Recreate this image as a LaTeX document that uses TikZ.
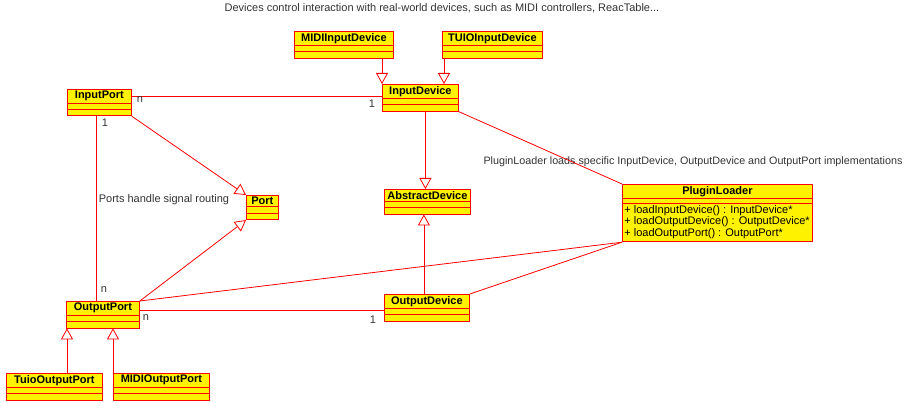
\documentclass[tikz,border=0pt]{standalone}
\usepackage{fontspec}
\setmainfont{Liberation Sans}
\usetikzlibrary{shapes.multipart,arrows.meta}

% empty compartment of a class box
\newcommand{\cpt}{\rule{0pt}{2.6pt}}

\begin{document}
\begin{tikzpicture}[x=1pt,y=-1pt,
    umlclass/.style={rectangle split, rectangle split parts=3, draw=red, fill=yellow,
      line width=0.8pt, anchor=north west, inner xsep=2pt, inner ysep=1.5pt,
      font=\bfseries\fontsize{11}{12}\selectfont},
    link/.style={draw=red, line width=0.8pt},
    gen/.style={link, -{Triangle[open,length=11pt,width=12pt]}},
    mult/.style={font=\fontsize{11}{12}\selectfont, text=black!80, inner sep=0pt},
    note/.style={font=\fontsize{11}{12}\selectfont, text=black!80, inner sep=0pt}
    ]
    \useasboundingbox (0,0) rectangle (907,403);

    \node[note] (title) at (442,8) {Devices control interaction with real-world devices, such as MIDI controllers, ReacTable...};

    \node[umlclass, minimum width=99pt] (midiin) at (294,31) {MIDIInputDevice\nodepart{two}\cpt\nodepart{three}\cpt};
    \node[umlclass, minimum width=100pt] (tuioin) at (442,31) {TUIOInputDevice\nodepart{two}\cpt\nodepart{three}\cpt};
    \node[umlclass, minimum width=76pt] (indev) at (382,84) {InputDevice\nodepart{two}\cpt\nodepart{three}\cpt};
    \node[umlclass, minimum width=64pt] (inport) at (67,89) {InputPort\nodepart{two}\cpt\nodepart{three}\cpt};
    \node[umlclass, minimum width=32pt] (port) at (246,195) {Port\nodepart{two}\cpt\nodepart{three}\cpt};
    \node[umlclass, minimum width=86pt] (absdev) at (384,189) {AbstractDevice\nodepart{two}\cpt\nodepart{three}\cpt};
    \node[umlclass, minimum width=73pt] (outport) at (66,301) {OutputPort\nodepart{two}\cpt\nodepart{three}\cpt};
    \node[umlclass, minimum width=85pt] (outdev) at (384,294) {OutputDevice\nodepart{two}\cpt\nodepart{three}\cpt};
    \node[umlclass, minimum width=96pt] (tuioout) at (6,373) {TuioOutputPort\nodepart{two}\cpt\nodepart{three}\cpt};
    \node[umlclass, minimum width=96pt] (midiout) at (113,373) {MIDIOutputPort\nodepart{two}\cpt\nodepart{three}\cpt};

    \node[umlclass, rectangle split part align={center,left,left}, minimum width=190pt] (loader) at (622,184)
      {PluginLoader
       \nodepart{two}\rule{0pt}{1.2pt}
       \nodepart{three}\normalfont\fontsize{11}{11.5}\selectfont
       \begin{tabular}{@{}l@{}}
       + loadInputDevice() : InputDevice*\\
       + loadOutputDevice() : OutputDevice*\\
       + loadOutputPort() : OutputPort*
       \end{tabular}};

    \node[note, font=\fontsize{10.75}{12}\selectfont] (loadnote) at (693,162) {PluginLoader loads specific InputDevice, OutputDevice and OutputPort implementations};
    \node[note] (portnote) at (164,200) {Ports handle signal routing};

    % generalisations
    \draw[gen] (midiin.south -| indev.north west) -- (indev.north west);
    \draw[gen] ([xshift=2pt]tuioin.south west) -- ([xshift=2pt]tuioin.south west |- indev.north);
    \draw[gen] ([xshift=5pt]indev.south) -- ([xshift=5pt]indev.south |- absdev.north);
    \draw[gen] ([xshift=-3pt]outdev.north) -- ([xshift=-3pt]outdev.north |- absdev.south);
    \draw[gen] (inport.south east) -- (port.north west);
    \draw[gen] (outport.north east) -- (port.south west);
    \draw[gen] ([xshift=1pt]outport.south west |- tuioout.north) -- ([xshift=1pt]outport.south west);
    \draw[gen] (midiout.north west) -- (midiout.north west |- outport.south);

    % associations
    \draw[link] ([yshift=-7pt]inport.north east) -- ([yshift=-7pt]inport.north east -| indev.west);
    \draw[link] ([xshift=-3pt]inport.south) -- ([xshift=-3pt]inport.south |- outport.north);
    \draw[link] ([yshift=-9pt]outport.north east) -- ([yshift=-9pt]outport.north east -| outdev.west);
    \draw[link] (indev.south east) -- (loader.north west);
    \draw[link] (loader.south west) -- (outport.north east);
    \draw[link] (loader.south west) -- (outdev.north east);

    \node[mult] (m1) at (140,100) {n};
    \node[mult] (m2) at (372,104) {1};
    \node[mult] (m3) at (105,123) {1};
    \node[mult] (m4) at (104,290) {n};
    \node[mult] (m5) at (146,318) {n};
    \node[mult] (m6) at (373,320) {1};
\end{tikzpicture}
\end{document}
